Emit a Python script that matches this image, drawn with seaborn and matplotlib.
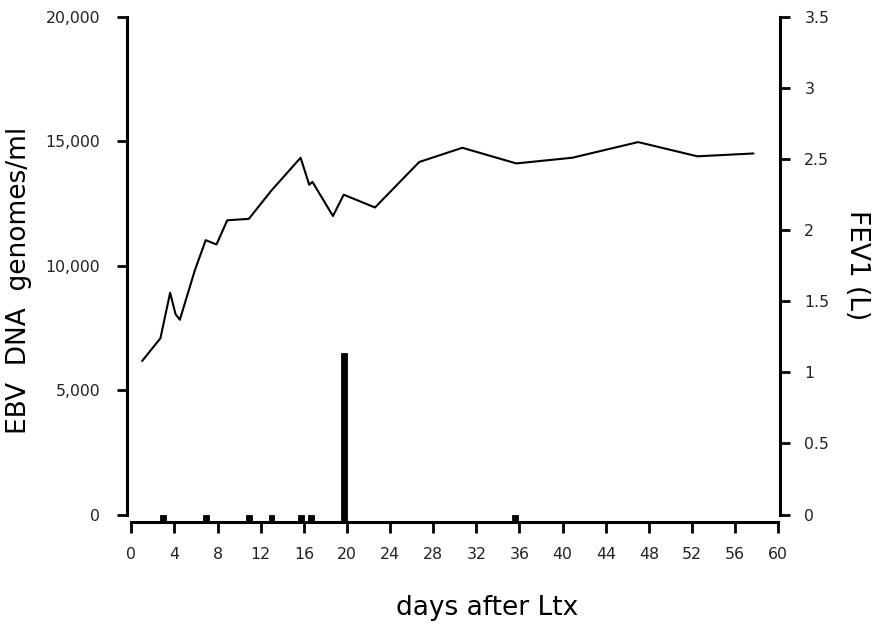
import matplotlib
matplotlib.use("Agg")
import matplotlib.pyplot as plt
import seaborn as sns
import numpy as np

# FEV1 (L) over days after lung transplant (line, right axis)
fev_days = [1.0, 2.7, 3.6, 4.1, 4.5, 5.9, 6.9, 7.9, 8.9, 10.9, 13.0, 15.7,
            16.5, 16.8, 18.7, 19.7, 22.6, 26.7, 30.7, 35.7, 40.9, 47.0, 52.5, 57.7]
fev1 = [1.08, 1.24, 1.56, 1.41, 1.37, 1.72, 1.93, 1.90, 2.07, 2.08, 2.28, 2.51,
        2.32, 2.34, 2.10, 2.25, 2.16, 2.48, 2.58, 2.47, 2.51, 2.62, 2.52, 2.54]

# EBV DNA genomes/ml (bars, left axis)
ebv_days = [2.9, 6.9, 10.9, 13.0, 15.7, 16.7, 19.7, 35.6]
ebv = [0, 0, 0, 0, 0, 0, 6500, 0]

x_ticks = list(range(0, 61, 4))
left_ticks = [0, 5000, 10000, 15000, 20000]
left_labels = ["0", "5,000", "10,000", "15,000", "20,000"]
right_ticks = [0, 0.5, 1, 1.5, 2, 2.5, 3, 3.5]
right_labels = ["0", "0.5", "1", "1.5", "2", "2.5", "3", "3.5"]

sns.set_theme(style="white")
plt.rcParams['font.family'] = ['DejaVu Sans']

W, H = 886, 629
fig = plt.figure(figsize=(W / 100, H / 100), dpi=100)
ax = fig.add_axes([127 / W, 1 - 522 / H, (780 - 127) / W, (522 - 17) / H])
ax2 = ax.twinx()

floor_left = -300
floor_right = floor_left / 20000 * 3.5

ax.set_xlim(-0.4, 60.16)
ax.set_ylim(floor_left, 20000)
ax2.set_ylim(floor_right, 3.5)

# bars drawn from the axis floor
heights = [v - floor_left for v in ebv]
ax.bar(ebv_days, heights, bottom=floor_left, width=0.55, color="black",
       edgecolor="black", linewidth=0.6, zorder=2)

sns.lineplot(x=fev_days, y=fev1, ax=ax2, color="black", linewidth=1.5,
             estimator=None, sort=False)

lw = 2.2
ax.spines['top'].set_visible(False)
ax.spines['right'].set_visible(False)
ax.spines['left'].set_bounds(0, 20000)
ax.spines['bottom'].set_bounds(0, 60)
for s in ['left', 'bottom']:
    ax.spines[s].set_linewidth(lw)
    ax.spines[s].set_color('black')
ax2.spines['top'].set_visible(False)
ax2.spines['left'].set_visible(False)
ax2.spines['bottom'].set_visible(False)
ax2.spines['right'].set_bounds(0, 3.5)
ax2.spines['right'].set_linewidth(lw)
ax2.spines['right'].set_color('black')

ax.set_xticks(x_ticks)
ax.set_xticklabels([str(t) for t in x_ticks])
ax.set_yticks(left_ticks)
ax.set_yticklabels(left_labels)
ax2.set_yticks(right_ticks)
ax2.set_yticklabels(right_labels)

tick_fs = 11.3
ax.tick_params(axis='x', direction='out', length=8, width=2, color='black',
               pad=10, labelsize=tick_fs, labelcolor='#222222', bottom=True)
ax.tick_params(axis='y', direction='out', length=7.5, width=2, color='black',
               pad=12, labelsize=tick_fs, labelcolor='#222222', left=True)
ax2.tick_params(axis='y', direction='out', length=7.5, width=2, color='black',
                pad=10, labelsize=tick_fs, labelcolor='#222222', right=True)
ax.grid(False)
ax2.grid(False)
ax.set_xlabel("")
ax.set_ylabel("")
ax2.set_ylabel("")

lab_fs = 19
fig.text(19 / W, 1 - 280 / H, "EBV  DNA  genomes/ml", rotation=90,
         ha='center', va='center', fontsize=lab_fs, color='black')
fig.text(857 / W, 1 - 265 / H, "FEV1 (L)", rotation=-90,
         ha='center', va='center', fontsize=lab_fs, color='black')
fig.text(487 / W, 1 - 608 / H, "days after Ltx", ha='center', va='center',
         fontsize=lab_fs, color='black')

fig.savefig("out.png", dpi=100)
